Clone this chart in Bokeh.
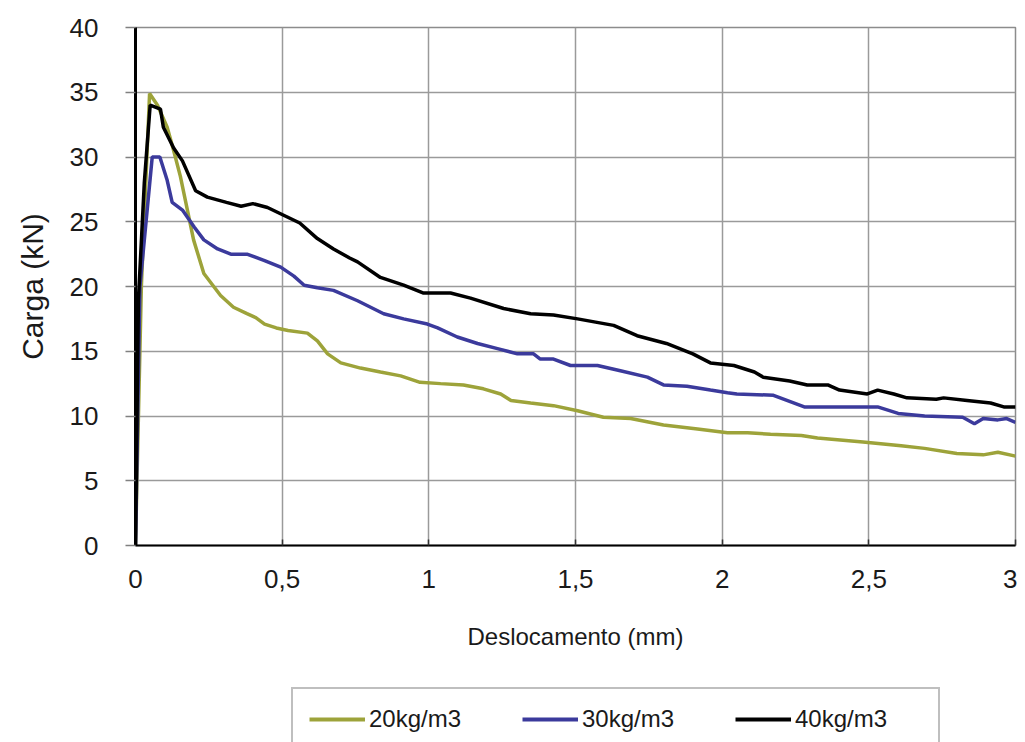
from bokeh.plotting import figure
from bokeh.models import Range1d, FixedTicker, Legend, LegendItem
from bokeh.layouts import column
from bokeh.embed import file_html
from bokeh.resources import INLINE

# ---- data ----
x_20 = [0, 0.02, 0.048, 0.075, 0.108, 0.13, 0.153, 0.177, 0.198, 0.233, 0.29, 0.334, 0.38, 0.41, 0.44, 0.48,
        0.52, 0.586, 0.62, 0.655, 0.70, 0.767, 0.835, 0.904, 0.97, 1.04, 1.118, 1.186, 1.245, 1.28, 1.347,
        1.425, 1.507, 1.595, 1.688, 1.80, 1.916, 2.018, 2.087, 2.165, 2.27, 2.325, 2.48, 2.61, 2.69, 2.80,
        2.89, 2.94, 3.0]
y_20 = [0, 20, 34.9, 34.0, 32.3, 30.5, 28.5, 25.9, 23.6, 21.0, 19.3, 18.4, 17.9, 17.6, 17.1, 16.8,
        16.6, 16.4, 15.8, 14.8, 14.1, 13.7, 13.4, 13.1, 12.6, 12.5, 12.4, 12.1, 11.7, 11.2, 11.0,
        10.8, 10.4, 9.9, 9.8, 9.3, 9.0, 8.7, 8.7, 8.6, 8.5, 8.3, 8.0, 7.7, 7.5, 7.1,
        7.0, 7.2, 6.9]

x_30 = [0, 0.015, 0.057, 0.083, 0.108, 0.125, 0.16, 0.2, 0.233, 0.28, 0.325, 0.38, 0.44, 0.495, 0.54,
        0.575, 0.62, 0.675, 0.757, 0.846, 0.914, 0.995, 1.03, 1.097, 1.166, 1.234, 1.302, 1.357, 1.38,
        1.425, 1.483, 1.575, 1.653, 1.745, 1.80, 1.88, 1.96, 2.018, 2.05, 2.175, 2.28, 2.53, 2.6, 2.69,
        2.82, 2.86, 2.89, 2.94, 2.97, 3.0]
y_30 = [0, 20, 30.0, 30.0, 28.2, 26.5, 25.9, 24.6, 23.6, 22.9, 22.5, 22.5, 22.0, 21.5, 20.8,
        20.1, 19.9, 19.7, 18.9, 17.9, 17.5, 17.1, 16.8, 16.1, 15.6, 15.2, 14.8, 14.8, 14.4,
        14.4, 13.9, 13.9, 13.5, 13.0, 12.4, 12.3, 12.0, 11.8, 11.7, 11.6, 10.7, 10.7, 10.2, 10.0,
        9.9, 9.4, 9.8, 9.7, 9.8, 9.5]

x_40 = [0, 0.01, 0.03, 0.05, 0.085, 0.095, 0.13, 0.16, 0.205, 0.245, 0.31, 0.36, 0.40, 0.45, 0.505,
        0.56, 0.62, 0.675, 0.73, 0.757, 0.835, 0.914, 0.98, 1.074, 1.142, 1.255, 1.347, 1.425, 1.507,
        1.63, 1.71, 1.81, 1.90, 1.96, 2.04, 2.11, 2.14, 2.23, 2.29, 2.36, 2.40, 2.495, 2.53, 2.585,
        2.63, 2.73, 2.755, 2.835, 2.915, 2.96, 3.0]
y_40 = [0, 19, 28, 34.0, 33.7, 32.3, 30.7, 29.7, 27.4, 26.9, 26.5, 26.2, 26.4, 26.1, 25.5,
        24.9, 23.7, 22.9, 22.2, 21.9, 20.7, 20.1, 19.5, 19.5, 19.1, 18.3, 17.9, 17.8, 17.5,
        17.0, 16.2, 15.6, 14.8, 14.1, 13.9, 13.4, 13.0, 12.7, 12.4, 12.4, 12.0, 11.7, 12.0, 11.7,
        11.4, 11.3, 11.4, 11.2, 11.0, 10.7, 10.7]

series_names = ["20kg/m3", "30kg/m3", "40kg/m3"]
series_colors = ["#9da33a", "#3b3a9c", "#000000"]

x_ticks = [0, 0.5, 1, 1.5, 2, 2.5, 3]
x_tick_labels = ["0", "0,5", "1", "1,5", "2", "2,5", "3"]
y_ticks = [0, 5, 10, 15, 20, 25, 30, 35, 40]

FONT = "Liberation Sans"
W = 1017
H_MAIN = 680
H_LEG = 62

p = figure(width=W, height=H_MAIN, output_backend="svg", toolbar_location=None,
           x_range=Range1d(0, 3), y_range=Range1d(0, 40),
           min_border_left=135, min_border_right=2, min_border_top=27, min_border_bottom=H_MAIN - 545)
p.background_fill_color = "white"
p.border_fill_color = "white"
p.outline_line_color = "#8c8c8c"
p.outline_line_width = 1.5

for xv, yv, c in zip([x_20, x_30, x_40], [y_20, y_30, y_40], series_colors):
    p.line(xv, yv, line_color=c, line_width=3.5)

# axes
p.xaxis.ticker = FixedTicker(ticks=x_ticks)
p.xaxis.major_label_overrides = {t: l for t, l in zip(x_ticks, x_tick_labels)}
p.yaxis.ticker = FixedTicker(ticks=y_ticks)

p.xaxis.axis_label = "Deslocamento (mm)"
p.yaxis.axis_label = "Carga (kN)"
for ax in (p.xaxis, p.yaxis):
    ax.axis_label_text_font = FONT
    ax.axis_label_text_font_style = "normal"
    ax.axis_label_text_color = "#1a1a1a"
    ax.major_label_text_font = FONT
    ax.major_label_text_font_size = "26px"
    ax.major_label_text_color = "#1a1a1a"
    ax.minor_tick_line_color = None
p.xaxis.axis_label_text_font_size = "24px"
p.yaxis.axis_label_text_font_size = "30px"

p.yaxis.axis_line_color = "black"
p.yaxis.axis_line_width = 3
p.yaxis.major_tick_line_color = "#808080"
p.yaxis.major_tick_line_width = 1.5
p.yaxis.major_tick_out = 10
p.yaxis.major_tick_in = 0
p.yaxis.major_label_standoff = 27
p.yaxis.axis_label_standoff = 18

p.xaxis.axis_line_color = "black"
p.xaxis.axis_line_width = 2
p.xaxis.major_tick_line_color = "#333333"
p.xaxis.major_tick_line_width = 1.5
p.xaxis.major_tick_out = 0
p.xaxis.major_tick_in = 6
p.xaxis.major_label_standoff = 24
p.xaxis.axis_label_standoff = 32

# grid
for g in (p.xgrid, p.ygrid):
    g.grid_line_color = "#9a9a9a"
    g.grid_line_width = 1.5
p.xgrid.ticker = FixedTicker(ticks=x_ticks)
p.ygrid.ticker = FixedTicker(ticks=y_ticks)

# ---- legend strip (separate canvas under the plot) ----
pl = figure(width=W, height=H_LEG, output_backend="svg", toolbar_location=None,
            x_range=Range1d(0, 1), y_range=Range1d(0, 1),
            x_axis_type=None, y_axis_type=None,
            min_border_left=0, min_border_right=0, min_border_top=0, min_border_bottom=0)
pl.outline_line_color = None
pl.xgrid.visible = False
pl.ygrid.visible = False
pl.background_fill_color = "white"
pl.border_fill_color = "white"

# off-screen stand-ins so the legend can show each series' line style
leg_renderers = [pl.line(x=[-3, -2], y=[-3, -2], line_color=c, line_width=4) for c in series_colors]

legend = Legend(items=[LegendItem(label=n, renderers=[r]) for n, r in zip(series_names, leg_renderers)],
                orientation="horizontal", location=(156, -9))
legend.label_text_font = FONT
legend.label_text_font_size = "24px"
legend.label_text_color = "#1a1a1a"
legend.label_width = 127
legend.label_standoff = 4
legend.glyph_width = 56
legend.glyph_height = 20
legend.spacing = 26
legend.padding = 16
legend.margin = 0
legend.border_line_color = "#7f7f7f"
legend.border_line_width = 2
legend.background_fill_color = "white"
legend.background_fill_alpha = 1
pl.add_layout(legend, "center")

layout = column(p, pl, spacing=0)
open("out.html", "w").write(file_html(layout, INLINE))
